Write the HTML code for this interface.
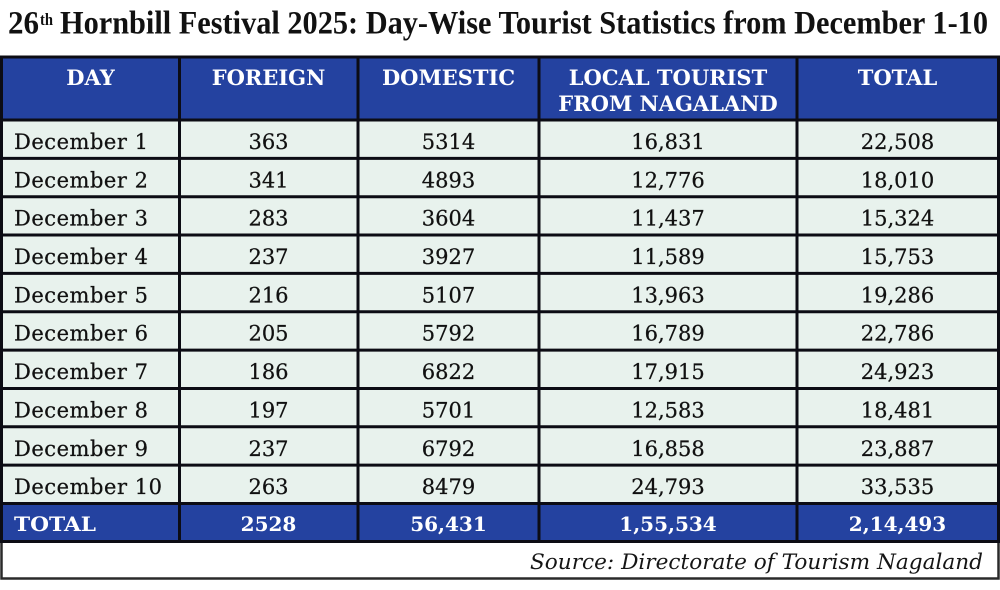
<!DOCTYPE html>
<html>
<head>
<meta charset="utf-8">
<style>
  html,body{margin:0;padding:0;background:#ffffff;}
  svg{display:block;}
  .ti{font-family:"Liberation Serif",serif;font-weight:bold;fill:#111;}
  .h{font-family:"DejaVu Serif","Liberation Serif",serif;font-weight:bold;font-size:21px;fill:#ffffff;}
  .c{font-family:"DejaVu Serif","Liberation Serif",serif;font-size:21px;fill:#111;stroke:#111;stroke-width:0.25;}
  .t{font-family:"DejaVu Serif","Liberation Serif",serif;font-weight:bold;font-size:20px;fill:#ffffff;}
  .s{font-family:"DejaVu Serif","Liberation Serif",serif;font-style:italic;font-size:21px;fill:#151515;}
</style>
</head>
<body>
<svg width="1000" height="590" viewBox="0 0 1000 590" xmlns="http://www.w3.org/2000/svg">
  <rect x="0" y="0" width="1000" height="590" fill="#ffffff"/>
  <!-- Title -->
  <text class="ti" x="8" y="33.5" font-size="33" textLength="31" lengthAdjust="spacingAndGlyphs">26</text>
  <text class="ti" x="40" y="25" font-size="17" textLength="13" lengthAdjust="spacingAndGlyphs">th</text>
  <text class="ti" x="60" y="33.5" font-size="33" textLength="928" lengthAdjust="spacingAndGlyphs">Hornbill Festival 2025: Day-Wise Tourist Statistics from December 1-10</text>

  <!-- Header background -->
  <rect x="1.5" y="57" width="997" height="63" fill="#2442a0"/>
  <!-- Body background -->
  <rect x="1.5" y="120" width="997" height="383.5" fill="#e8f2ed"/>
  <!-- Total row background -->
  <rect x="1.5" y="503.5" width="997" height="38" fill="#2442a0"/>
  <!-- Source box -->
  <rect x="1.5" y="541.5" width="997" height="37" fill="#ffffff" stroke="#2a2a2a" stroke-width="2.5"/>

  <!-- Grid lines -->
  <g stroke="#0c0c14" stroke-width="3" fill="none">
    <rect x="1.5" y="57" width="997" height="484.5"/>
    <line x1="0" y1="120" x2="1000" y2="120"/>
    <line x1="0" y1="158.35" x2="1000" y2="158.35"/>
    <line x1="0" y1="196.7" x2="1000" y2="196.7"/>
    <line x1="0" y1="235.05" x2="1000" y2="235.05"/>
    <line x1="0" y1="273.4" x2="1000" y2="273.4"/>
    <line x1="0" y1="311.75" x2="1000" y2="311.75"/>
    <line x1="0" y1="350.1" x2="1000" y2="350.1"/>
    <line x1="0" y1="388.45" x2="1000" y2="388.45"/>
    <line x1="0" y1="426.8" x2="1000" y2="426.8"/>
    <line x1="0" y1="465.15" x2="1000" y2="465.15"/>
    <line x1="0" y1="503.5" x2="1000" y2="503.5"/>
    <line x1="179.5" y1="57" x2="179.5" y2="541.5"/>
    <line x1="358" y1="57" x2="358" y2="541.5"/>
    <line x1="539" y1="57" x2="539" y2="541.5"/>
    <line x1="797" y1="57" x2="797" y2="541.5"/>
  </g>

  <!-- Header text -->
  <g class="h" text-anchor="middle">
    <text x="90.5" y="85">DAY</text>
    <text x="268.5" y="85">FOREIGN</text>
    <text x="448.5" y="85">DOMESTIC</text>
    <text x="668" y="85">LOCAL TOURIST</text>
    <text x="668" y="111">FROM NAGALAND</text>
    <text x="897.5" y="85">TOTAL</text>
  </g>

  <!-- Body rows -->
  <g class="c">
    <text x="14" y="149" textLength="134" lengthAdjust="spacing">December 1</text>
    <text x="14" y="187.3" textLength="134" lengthAdjust="spacing">December 2</text>
    <text x="14" y="225.7" textLength="134" lengthAdjust="spacing">December 3</text>
    <text x="14" y="264" textLength="134" lengthAdjust="spacing">December 4</text>
    <text x="14" y="302.4" textLength="134" lengthAdjust="spacing">December 5</text>
    <text x="14" y="340.7" textLength="134" lengthAdjust="spacing">December 6</text>
    <text x="14" y="379.1" textLength="134" lengthAdjust="spacing">December 7</text>
    <text x="14" y="417.4" textLength="134" lengthAdjust="spacing">December 8</text>
    <text x="14" y="455.8" textLength="134" lengthAdjust="spacing">December 9</text>
    <text x="14" y="494.1" textLength="148" lengthAdjust="spacing">December 10</text>
  </g>
  <g class="c" text-anchor="middle">
    <text x="268.5" y="149">363</text><text x="448.5" y="149">5314</text><text x="668" y="149">16,831</text><text x="897.5" y="149">22,508</text>
    <text x="268.5" y="187.3">341</text><text x="448.5" y="187.3">4893</text><text x="668" y="187.3">12,776</text><text x="897.5" y="187.3">18,010</text>
    <text x="268.5" y="225.7">283</text><text x="448.5" y="225.7">3604</text><text x="668" y="225.7">11,437</text><text x="897.5" y="225.7">15,324</text>
    <text x="268.5" y="264">237</text><text x="448.5" y="264">3927</text><text x="668" y="264">11,589</text><text x="897.5" y="264">15,753</text>
    <text x="268.5" y="302.4">216</text><text x="448.5" y="302.4">5107</text><text x="668" y="302.4">13,963</text><text x="897.5" y="302.4">19,286</text>
    <text x="268.5" y="340.7">205</text><text x="448.5" y="340.7">5792</text><text x="668" y="340.7">16,789</text><text x="897.5" y="340.7">22,786</text>
    <text x="268.5" y="379.1">186</text><text x="448.5" y="379.1">6822</text><text x="668" y="379.1">17,915</text><text x="897.5" y="379.1">24,923</text>
    <text x="268.5" y="417.4">197</text><text x="448.5" y="417.4">5701</text><text x="668" y="417.4">12,583</text><text x="897.5" y="417.4">18,481</text>
    <text x="268.5" y="455.8">237</text><text x="448.5" y="455.8">6792</text><text x="668" y="455.8">16,858</text><text x="897.5" y="455.8">23,887</text>
    <text x="268.5" y="494.1">263</text><text x="448.5" y="494.1">8479</text><text x="668" y="494.1">24,793</text><text x="897.5" y="494.1">33,535</text>
  </g>

  <!-- Total row -->
  <text class="t" x="14" y="531" font-size="21.5" textLength="82" lengthAdjust="spacingAndGlyphs">TOTAL</text>
  <g class="t" text-anchor="middle">
    <text x="268.5" y="531">2528</text>
    <text x="448.5" y="531">56,431</text>
    <text x="668" y="531">1,55,534</text>
    <text x="897.5" y="531">2,14,493</text>
  </g>

  <!-- Source -->
  <text class="s" x="530" y="569" textLength="453" lengthAdjust="spacingAndGlyphs">Source: Directorate of Tourism Nagaland</text>
</svg>
</body>
</html>
